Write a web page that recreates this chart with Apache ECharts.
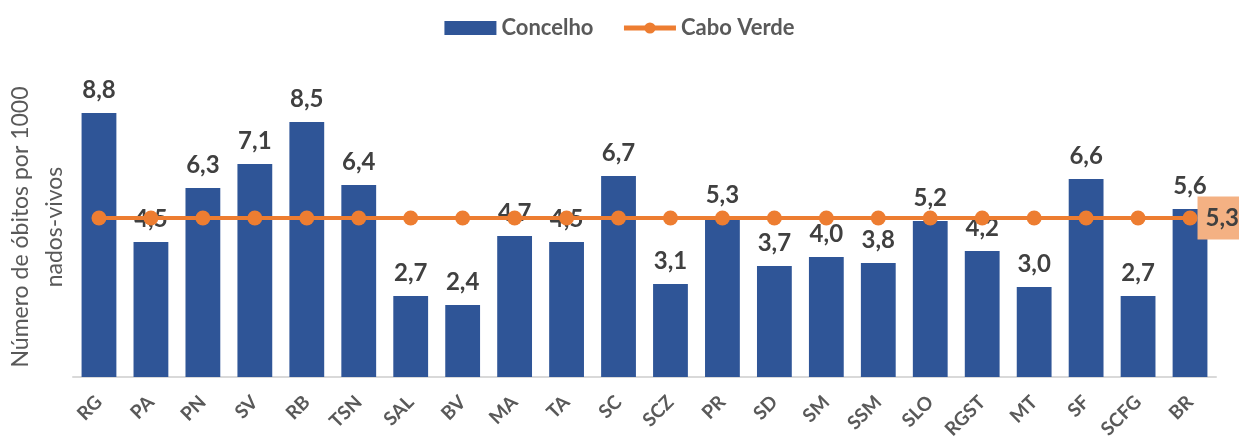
<!DOCTYPE html>
<html>
<head>
<meta charset="utf-8">
<script src="https://cdn.jsdelivr.net/npm/echarts@6/dist/echarts.min.js"></script>
<style>
  html, body { margin: 0; padding: 0; background: #fff; }
  #chart { width: 1239px; height: 440px; }
</style>
</head>
<body>
<div id="chart"></div>
<script>
var concelhos = ['RG', 'PA', 'PN', 'SV', 'RB', 'TSN', 'SAL', 'BV', 'MA', 'TA', 'SC', 'SCZ', 'PR', 'SD', 'SM', 'SSM', 'SLO', 'RGST', 'MT', 'SF', 'SCFG', 'BR']
var concelhoValues = [8.8, 4.5, 6.3, 7.1, 8.5, 6.4, 2.7, 2.4, 4.7, 4.5, 6.7, 3.1, 5.3, 3.7, 4.0, 3.8, 5.2, 4.2, 3.0, 6.6, 2.7, 5.6]
var caboVerdeValues = [5.3, 5.3, 5.3, 5.3, 5.3, 5.3, 5.3, 5.3, 5.3, 5.3, 5.3, 5.3, 5.3, 5.3, 5.3, 5.3, 5.3, 5.3, 5.3, 5.3, 5.3, 5.3]

var fontFam = 'Lato, "Open Sans", sans-serif'
function comma (v) {
  return v.toFixed(1).replace('.', ',')
}

var myChart = echarts.init(document.getElementById('chart'))
var option = {
  animation: false,
  textStyle: { fontFamily: fontFam },
  legend: {
    top: 12,
    left: 'center',
    itemGap: 28,
    itemWidth: 52,
    itemHeight: 14,
    textStyle: { fontSize: 22, fontWeight: 'bold', color: '#595959', fontFamily: fontFam },
    data: [
      { name: 'Concelho', icon: 'rect', itemStyle: { color: '#2F5597' } },
      { name: 'Cabo Verde', lineStyle: { width: 5, color: '#ED7D31' } }
    ]
  },
  grid: { left: 73, right: 23, top: 77, bottom: 63, outerBoundsMode: 'none', containLabel: false },
  xAxis: {
    type: 'category',
    data: concelhos,
    axisTick: { show: false },
    axisLine: { lineStyle: { color: '#D9D9D9', width: 2 } },
    axisLabel: {
      rotate: 45,
      interval: 0,
      margin: 22,
      fontSize: 19,
      fontWeight: 'bold',
      color: '#595959',
      fontFamily: fontFam
    }
  },
  yAxis: {
    type: 'value',
    min: 0,
    max: 10,
    axisLabel: { show: false },
    splitLine: { show: false },
    axisLine: { show: false },
    axisTick: { show: false },
    name: 'Número de óbitos por 1000\nnados-vivos',
    nameLocation: 'middle',
    nameGap: 1,
    nameTextStyle: { fontSize: 23, color: '#595959', lineHeight: 34, fontFamily: fontFam }
  },
  series: [{
    name: 'Concelho',
    type: 'bar',
    data: concelhoValues,
    barCategoryGap: '33%',
    itemStyle: { color: '#2F5597' },
    label: {
      show: true,
      position: 'top',
      distance: 11,
      fontSize: 24,
      fontWeight: 'bold',
      color: '#404040',
      fontFamily: fontFam,
      formatter: function (p) { return comma(p.value) }
    }
  }, {
    name: 'Cabo Verde',
    type: 'line',
    data: caboVerdeValues.map(function (v, i) {
      if (i === caboVerdeValues.length - 1) {
        return {
          value: v,
          label: {
            show: true,
            position: 'right',
            distance: 0,
            backgroundColor: '#F4B183',
            padding: [10, 8, 9, 8],
            fontSize: 24,
            fontWeight: 'bold',
            color: '#404040',
            fontFamily: fontFam,
            formatter: function (p) { return comma(p.value) }
          }
        }
      }
      return v
    }),
    symbol: 'circle',
    symbolSize: 15,
    itemStyle: { color: '#ED7D31' },
    lineStyle: { color: '#ED7D31', width: 4 },
    label: { show: false }
  }]
}
myChart.setOption(option)
</script>
</body>
</html>
